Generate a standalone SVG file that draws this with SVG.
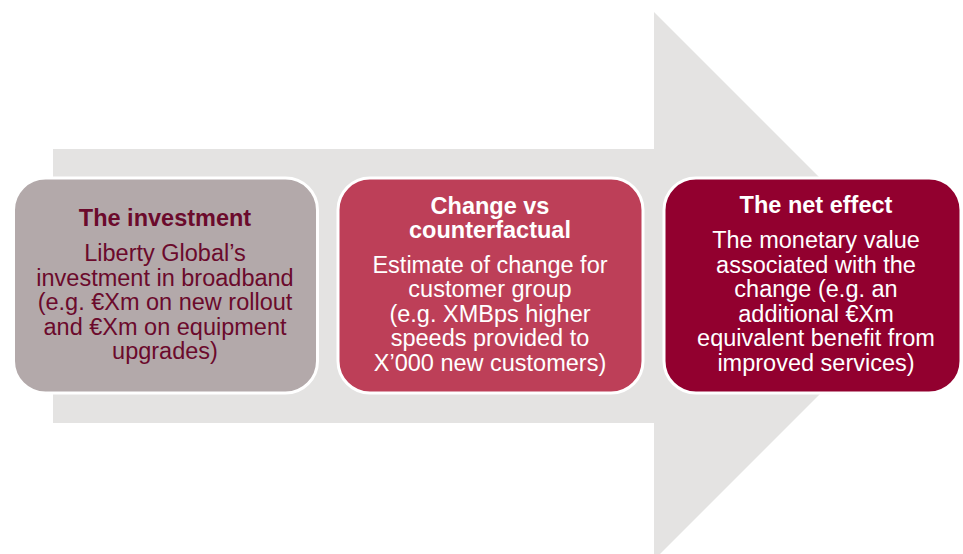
<svg xmlns="http://www.w3.org/2000/svg" width="963" height="554" viewBox="0 0 963 554">
<style>
.box{stroke:#ffffff;stroke-width:3}
text{font-family:"Liberation Sans",Arial,sans-serif;font-size:23.5px;text-anchor:middle}
.t{font-weight:bold}
.dark{fill:#6b0a2c}
.light{fill:#ffffff}
</style>
<g id="connectors">
<path d="M53,149 H654 V12 L928,286 L654,560 V423 H53 Z" fill="#e4e3e2"/>
</g>
<g id="node-investment">
<rect class="box" x="13.5" y="178" width="304" height="215" rx="32" fill="#b3a9aa"/>
<text class="t dark" x="165" y="226">The investment</text>
<text class="dark" x="165" y="261">Liberty Global’s</text>
<text class="dark" x="165" y="285.5">investment in broadband</text>
<text class="dark" x="165" y="310">(e.g. €Xm on new rollout</text>
<text class="dark" x="165" y="334.5">and €Xm on equipment</text>
<text class="dark" x="165" y="359">upgrades)</text>
</g>
<g id="node-change">
<rect class="box" x="338" y="178" width="305" height="215" rx="32" fill="#bd3f58"/>
<text class="t light" x="490" y="214">Change vs</text>
<text class="t light" x="490" y="238">counterfactual</text>
<text class="light" x="490" y="272.5">Estimate of change for</text>
<text class="light" x="490" y="297">customer group</text>
<text class="light" x="490" y="321.5">(e.g. XMBps higher</text>
<text class="light" x="490" y="346">speeds provided to</text>
<text class="light" x="490" y="370.5">X’000 new customers)</text>
</g>
<g id="node-net-effect">
<rect class="box" x="664" y="178" width="297" height="215" rx="32" fill="#92002f"/>
<text class="t light" x="816" y="213">The net effect</text>
<text class="light" x="816" y="248">The monetary value</text>
<text class="light" x="816" y="272.5">associated with the</text>
<text class="light" x="816" y="297">change (e.g. an</text>
<text class="light" x="816" y="321.5">additional €Xm</text>
<text class="light" x="816" y="346">equivalent benefit from</text>
<text class="light" x="816" y="370.5">improved services)</text>
</g>
</svg>
